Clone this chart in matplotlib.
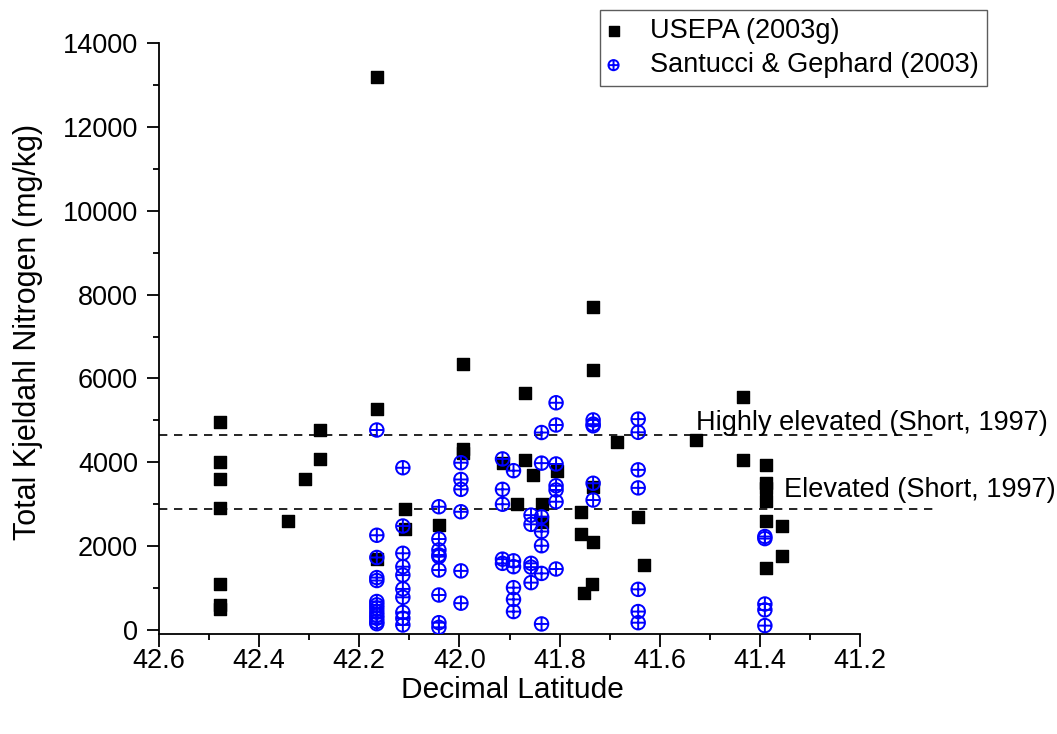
import matplotlib
matplotlib.use("Agg")
import matplotlib.pyplot as plt
from matplotlib.path import Path
from matplotlib.ticker import MultipleLocator

plt.rcParams['font.family'] = ['Liberation Sans', 'DejaVu Sans']

# USEPA (2003g) samples
usepa_lat = [42.478, 42.478, 42.478, 42.478, 42.478, 42.478, 42.478,
             42.343, 42.309, 42.279, 42.279,
             42.165, 42.165, 42.165, 42.108, 42.108, 42.040,
             41.993, 41.993, 41.993,
             41.913, 41.886, 41.869, 41.869, 41.853, 41.835, 41.835, 41.806,
             41.758, 41.758, 41.752, 41.735, 41.733, 41.733, 41.733, 41.733,
             41.685, 41.643, 41.631, 41.528, 41.433, 41.433,
             41.387, 41.387, 41.387, 41.387, 41.387, 41.387, 41.355, 41.355]
usepa_tkn = [4970, 4000, 3600, 2900, 1090, 600, 500,
             2610, 3600, 4770, 4080,
             13200, 5270, 1700, 2880, 2420, 2500,
             6350, 4310, 4220,
             3980, 3000, 5660, 4050, 3700, 3000, 2570, 3800,
             2810, 2300, 880, 1100, 7700, 6200, 3420, 2090,
             4480, 2700, 1550, 4520, 5550, 4050,
             3940, 3500, 3380, 3080, 2600, 1490, 2490, 1770]

# Santucci & Gephard (2003) samples
sg_lat = [42.165] * 13 + [42.113] * 10 + [42.041] * 9 + [41.997] * 6 + \
         [41.914] * 5 + [41.892] * 6 + [41.857] * 5 + [41.836] * 7 + \
         [41.807] * 7 + [41.733] * 5 + [41.643] * 7 + [41.390] * 5
sg_tkn = [4770, 2260, 1730, 1250, 1180, 680, 600, 520, 430, 350, 280, 200, 150,
          3870, 2480, 1830, 1510, 1310, 980, 780, 420, 280, 120,
          2940, 2170, 1910, 1790, 1750, 1430, 835, 175, 64,
          3990, 3590, 3355, 2820, 1410, 640,
          4080, 3355, 3000, 1690, 1590,
          3800, 1650, 1510, 1010, 730, 440,
          2740, 2520, 1590, 1500, 1130,
          4710, 3980, 2700, 2350, 2010, 1350, 145,
          5420, 4890, 3960, 3440, 3340, 3060, 1455,
          5010, 4910, 4870, 3500, 3100,
          5030, 4715, 3820, 3390, 970, 440, 175,
          2230, 2180, 620, 480, 105]

highly_elevated = 4650
elevated = 2880

# circle with a cross marker
circ = Path.unit_circle()
cross = Path([(-1, 0), (1, 0), (0, -1), (0, 1)],
             [Path.MOVETO, Path.LINETO, Path.MOVETO, Path.LINETO])
oplus = Path.make_compound_path(circ, cross)

fig = plt.figure(figsize=(10.57, 7.34), dpi=100)
ax = fig.add_axes([159 / 1057, 100 / 734, 701 / 1057, 591 / 734])

ax.plot([42.6, 41.044], [highly_elevated, highly_elevated], color='black',
        lw=1.2, dashes=(5, 4), clip_on=False, zorder=1)
ax.plot([42.6, 41.044], [elevated, elevated], color='black',
        lw=1.2, dashes=(5, 4), clip_on=False, zorder=1)

ax.scatter(usepa_lat, usepa_tkn, marker='s', s=85, color='black',
           label='USEPA (2003g)', zorder=2)
ax.scatter(sg_lat, sg_tkn, marker=oplus, s=95, facecolors='none',
           edgecolors='#0000ff', linewidths=1.4,
           label='Santucci & Gephard (2003)', zorder=3)

ax.text(41.528, 4940, 'Highly elevated (Short, 1997)', fontsize=19.5,
        va='center', ha='left', clip_on=False)
ax.text(41.352, 3340, 'Elevated (Short, 1997)', fontsize=19.5,
        va='center', ha='left', clip_on=False)

ax.set_xlim(42.6, 41.2)
ax.set_ylim(-95, 14000)
ax.xaxis.set_major_locator(MultipleLocator(0.2))
ax.xaxis.set_minor_locator(MultipleLocator(0.1))
ax.yaxis.set_major_locator(MultipleLocator(2000))
ax.yaxis.set_minor_locator(MultipleLocator(1000))
ax.set_xticks([42.6, 42.4, 42.2, 42.0, 41.8, 41.6, 41.4, 41.2])
ax.set_xticklabels(['42.6', '42.4', '42.2', '42.0', '41.8', '41.6', '41.4', '41.2'])
ax.set_yticks([0, 2000, 4000, 6000, 8000, 10000, 12000, 14000])

for s in ['top', 'right']:
    ax.spines[s].set_visible(False)
for s in ['left', 'bottom']:
    ax.spines[s].set_linewidth(1.3)

ax.tick_params(which='major', length=9, width=1.3, labelsize=19.5)
ax.tick_params(which='minor', length=4.5, width=1.3)
ax.tick_params(axis='x', which='major', pad=1)
ax.tick_params(axis='y', which='major', pad=6)

fig.text(28 / 1057, 1 - 332 / 734, 'Total Kjeldahl Nitrogen (mg/kg)',
         rotation=90, ha='center', va='center', fontsize=22)
fig.text(512 / 1057, 1 - 690 / 734, 'Decimal Latitude',
         ha='center', va='center', fontsize=21.5)

leg = ax.legend(loc='upper left', bbox_to_anchor=(600 / 1057, 1 - 10 / 734),
                bbox_transform=fig.transFigure, fontsize=19.5, frameon=True,
                fancybox=False, edgecolor='#333333', borderaxespad=0,
                handlelength=0.4, handletextpad=1.15, labelspacing=0.3,
                borderpad=0.3, markerscale=0.75)
leg.get_frame().set_linewidth(1.0)

fig.savefig('out.png', dpi=100)
